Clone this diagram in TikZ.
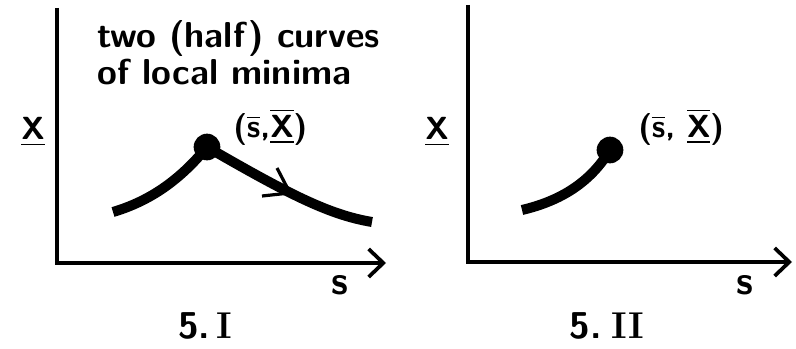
\documentclass[tikz,border=0pt]{standalone}
\usepackage{amsmath}
\usepackage{tikz}
\usetikzlibrary{positioning, arrows.meta}

\begin{document}
\begin{tikzpicture}[
    x=0.75pt, y=-0.75pt,
    every node/.style={font=\sffamily\bfseries\fontsize{24}{28}\selectfont, inner sep=0pt},
    axis/.style={line width=2.8pt, -{Straight Barb[length=11pt, width=21pt]}},
    curve/.style={line width=7.5pt},
    tick/.style={line width=2.4pt},
    dotmark/.style={circle, fill=black, minimum size=20pt},
    caption/.style={align=left, font=\sffamily\bfseries\fontsize{27}{28}\selectfont},
    slab/.style={font=\sffamily\bfseries\fontsize{30}{30}\selectfont},
    fignum/.style={font=\sffamily\bfseries\fontsize{28}{30}\selectfont},
]
    \useasboundingbox (0,0) rectangle (796,349);

    % panel 5.I
    \coordinate (yL) at (57,8);
    \coordinate (oL) at (57,263);
    \coordinate (xL) at (386,263);
    \draw[axis] (yL) -- (oL) -- (xL);

    \node[dotmark] (dotL) at (207,147) {};
    \draw[curve] (113,212) .. controls (150,201) and (180,180) .. (dotL.center);
    \draw[curve] (dotL.center) .. controls (290,195) and (330,215) .. (372,222);
    \draw[tick] (277,168) -- (290,193) -- (262,196);

    \node[caption, anchor=north west] (capL) at (97,20) {two (half) curves\\of local minima};
    \node (ylabL) at (33,132) {\underline{X}};
    \node[anchor=west] (ptL) at (233,127) {($\overline{\text{s}}$,$\overline{\underline{\text{X}}}$)};
    \node[slab] (slabL) at (340,285) {s};
    \node[fignum] (figL) at (205,326) {5.\,\textrm{I}};

    % panel 5.II
    \coordinate (yR) at (468,5);
    \coordinate (oR) at (468,262);
    \coordinate (xR) at (792,262);
    \draw[axis] (yR) -- (oR) -- (xR);

    \node[dotmark] (dotR) at (610,150) {};
    \draw[curve] (522,210) .. controls (560,201) and (590,183) .. (dotR.center);

    \node (ylabR) at (437,132) {\underline{X}};
    \node[anchor=west] (ptR) at (638,127) {($\overline{\text{s}}$, $\overline{\underline{\text{X}}}$)};
    \node[slab] (slabR) at (745,285) {s};
    \node[fignum] (figR) at (607,326) {5.\;\textrm{II}};
\end{tikzpicture}
\end{document}
